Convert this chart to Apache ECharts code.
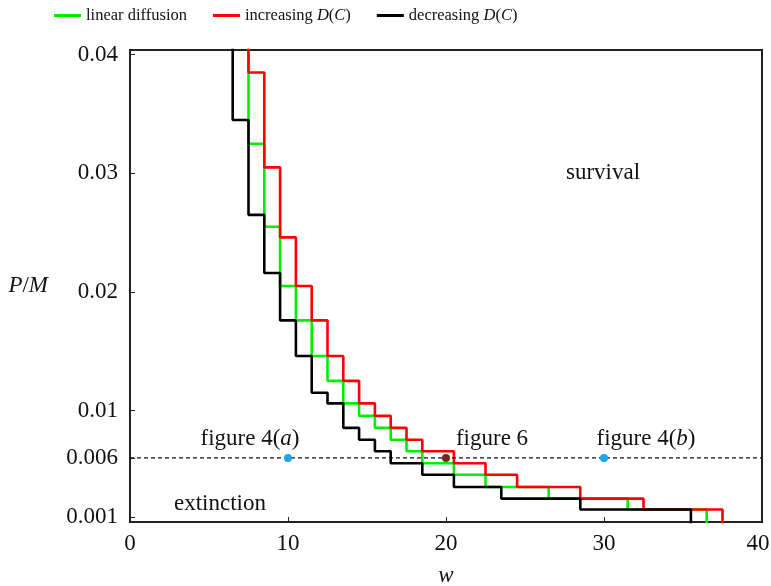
<!DOCTYPE html>
<html>
<head>
<meta charset="utf-8">
<title>P/M vs w</title>
<script src="https://cdn.jsdelivr.net/npm/echarts@6.0.0/dist/echarts.min.js"></script>
<style>
	html, body { margin: 0; padding: 0; background: #fff; }
	#main { width: 771px; height: 586px; }
</style>
</head>
<body>
<div id="main"></div>
<script>
// w values (integers), the step changes half way between them
var wSteps = [6, 7, 8, 9, 10, 11, 12, 13, 14, 15, 16, 17, 18, 19, 20, 21, 22, 23, 24, 25, 26, 27, 28, 29, 30, 31, 32, 33, 34, 35, 36, 37, 38];

// critical P/M for each w (0.05 = off the top, 0 = off the bottom)
var linearP = [0.05, 0.05, 0.0325, 0.0255, 0.0205, 0.0176, 0.0146, 0.0125, 0.0106, 0.00955, 0.00854, 0.00753, 0.00657, 0.00556, 0.00556, 0.00459, 0.00459, 0.00355, 0.00355, 0.00355, 0.00355, 0.00257, 0.00257, 0.00257, 0.00257, 0.00257, 0.00165, 0.00165, 0.00165, 0.00165, 0.00165, 0, 0];
var increasingP = [0.05, 0.05, 0.0385, 0.0305, 0.0246, 0.0205, 0.0176, 0.0146, 0.0125, 0.0106, 0.00955, 0.00854, 0.00753, 0.00657, 0.00657, 0.00556, 0.00556, 0.00459, 0.00459, 0.00355, 0.00355, 0.00355, 0.00355, 0.00257, 0.00257, 0.00257, 0.00257, 0.00165, 0.00165, 0.00165, 0.00165, 0.00165, 0];
var decreasingP = [0.05, 0.0345, 0.0265, 0.0216, 0.0176, 0.0146, 0.0115, 0.0106, 0.00854, 0.00753, 0.00657, 0.00556, 0.00556, 0.00459, 0.00459, 0.00355, 0.00355, 0.00355, 0.00257, 0.00257, 0.00257, 0.00257, 0.00257, 0.00165, 0.00165, 0.00165, 0.00165, 0.00165, 0.00165, 0.00165, 0, 0, 0];

// reference level and the marked cases
var refLevel = 0.006;
var markerW = [10, 20, 30];
var markerP = [0.006, 0.006, 0.006];
var markerNames = ['figure 4({i|a})', 'figure 6', 'figure 4({i|b})'];

var yTickValues = [0.001, 0.006, 0.01, 0.02, 0.03, 0.04];

var _chart = {
	font: 'Liberation Serif',
	ink: '#111',
	markerColors: ['#19a9e8', '#7a2a0c', '#19a9e8'],
	markerOffsets: [[-38, 0], [46, 0], [42, 0]],
	init: function() {
		this.ec = echarts.init(document.getElementById('main'), null, { renderer: 'canvas' });
		this.ec.setOption(this.option());
	},
	pairs: function(vals) {
		return wSteps.map(function(w, i) {
			return [w, vals[i]];
		});
	},
	stepSeries: function(name, vals, color) {
		return {
			name: name,
			type: 'line',
			step: 'middle',
			symbol: 'none',
			clip: true,
			lineStyle: { color: color, width: 2.6 },
			itemStyle: { color: color },
			data: this.pairs(vals)
		};
	},
	option: function() {
		var self = this;
		var italic = { fontStyle: 'italic', fontFamily: self.font, fontSize: 23, color: self.ink };
		return {
			backgroundColor: '#fff',
			animation: false,
			textStyle: { fontFamily: self.font, color: self.ink },
			legend: {
				left: 49,
				top: 2,
				icon: 'rect',
				itemWidth: 27,
				itemHeight: 3,
				itemGap: 26,
				data: ['linear diffusion', 'increasing D(C)', 'decreasing D(C)'],
				formatter: function(name) {
					return name.replace('D(C)', '{i|D}({i|C})');
				},
				textStyle: {
					fontFamily: self.font,
					fontSize: 16.5,
					color: self.ink,
					rich: {
						i: { fontStyle: 'italic', fontFamily: self.font, fontSize: 16.5, color: self.ink }
					}
				}
			},
			grid: {
				left: 130,
				right: 9,
				top: 50,
				bottom: 64,
				outerBoundsMode: 'none',
				show: true,
				borderColor: '#222',
				borderWidth: 2
			},
			xAxis: {
				type: 'value',
				min: 0,
				max: 40,
				interval: 10,
				name: 'w',
				nameLocation: 'middle',
				nameGap: 42,
				nameTextStyle: italic,
				axisLine: { show: true, lineStyle: { color: '#222', width: 2 } },
				axisTick: { show: true, inside: true, length: 5, lineStyle: { color: '#222' } },
				axisLabel: {
					margin: 10,
					fontSize: 23,
					fontFamily: self.font,
					color: self.ink,
					formatter: function(v) {
						// last label sits a bit left of its tick, as in the original
						return v === 40 ? '{r|40}' : String(v);
					},
					rich: {
						r: { fontSize: 23, fontFamily: self.font, color: self.ink, padding: [0, 8, 0, 0] }
					}
				},
				splitLine: { show: false }
			},
			yAxis: {
				type: 'value',
				min: 0.0006,
				max: 0.0404,
				name: '{i|P}/{i|M}',
				nameLocation: 'middle',
				nameRotate: 0,
				nameGap: 82,
				nameTextStyle: {
					fontFamily: self.font,
					fontSize: 23,
					color: self.ink,
					rich: { i: italic }
				},
				axisLine: { show: true, lineStyle: { color: '#222', width: 2 } },
				axisTick: { show: true, inside: true, length: 5, customValues: yTickValues, lineStyle: { color: '#222' } },
				axisLabel: {
					margin: 12,
					fontSize: 23,
					fontFamily: self.font,
					color: self.ink,
					customValues: yTickValues,
					formatter: function(v) {
						return String(v);
					}
				},
				splitLine: { show: false }
			},
			graphic: [{
				type: 'text',
				left: 566,
				top: 161,
				style: { text: 'survival', font: '23px "Liberation Serif"', fill: self.ink }
			}, {
				type: 'text',
				left: 174,
				top: 492,
				style: { text: 'extinction', font: '23px "Liberation Serif"', fill: self.ink }
			}],
			series: [
				self.stepSeries('linear diffusion', linearP, '#00ee00'),
				self.stepSeries('increasing D(C)', increasingP, '#ff0000'),
				self.stepSeries('decreasing D(C)', decreasingP, '#000000'),
				{
					name: 'level',
					type: 'line',
					symbol: 'none',
					silent: true,
					lineStyle: { color: '#111', width: 1.3, type: [4, 3] },
					data: [[0, refLevel], [40, refLevel]]
				},
				{
					name: 'cases',
					type: 'scatter',
					symbolSize: 8,
					z: 5,
					data: markerW.map(function(w, i) {
						return {
							value: [w, markerP[i]],
							itemStyle: { color: self.markerColors[i], opacity: 1 },
							label: {
								show: true,
								position: 'top',
								distance: 4,
								offset: self.markerOffsets[i],
								formatter: markerNames[i],
								fontFamily: self.font,
								fontSize: 23,
								color: self.ink,
								opacity: 1,
								rich: { i: italic }
							}
						};
					})
				}
			]
		};
	}
};

_chart.init();
</script>
</body>
</html>
